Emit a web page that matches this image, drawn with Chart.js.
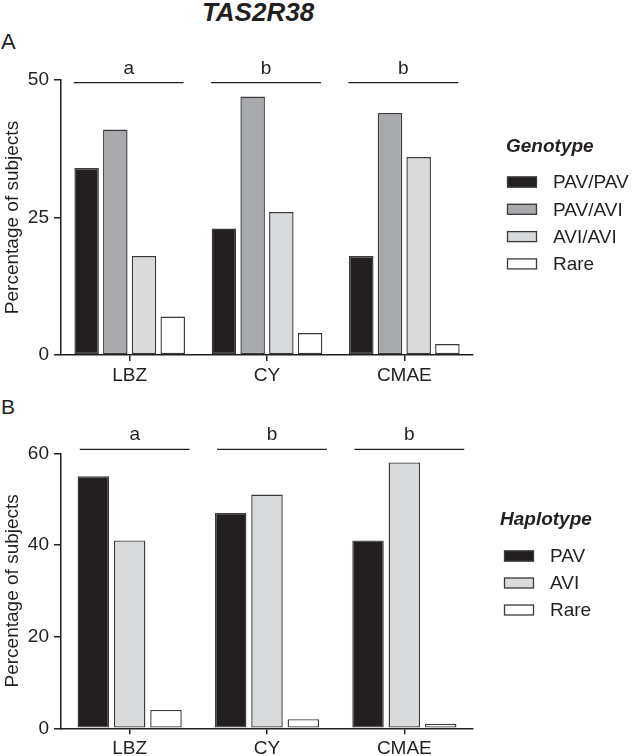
<!DOCTYPE html>
<html>
<head>
<meta charset="utf-8">
<script src="https://cdn.jsdelivr.net/npm/chart.js@4/dist/chart.umd.min.js"></script>
<style>
  html, body { margin: 0; padding: 0; background: #fff; }
  body { width: 633px; height: 756px; position: relative; overflow: hidden;
         font-family: "Liberation Sans", Arial, sans-serif; color: #231f20; }
  .abs { position: absolute; line-height: normal; white-space: nowrap; }
  #titulo { left: 0; width: 516px; text-align: center; top: -3px; font-size: 26px; font-weight: bold; font-style: italic; }
  #panelA { left: 1px; top: 29px; font-size: 22px; }
  #panelB { left: 1px; top: 395px; font-size: 21px; }
  #wrapA { left: 0; top: 0; }
  #wrapB { left: 0; top: 400px; }
</style>
</head>
<body>
<div class="abs" id="titulo">TAS2R38</div>
<div class="abs" id="panelA">A</div>
<div class="abs" id="panelB">B</div>
<div class="abs" id="wrapA"><canvas id="chartA" width="633" height="400"></canvas></div>
<div class="abs" id="wrapB"><canvas id="chartB" width="633" height="356"></canvas></div>
<script>
// ── Datos ─────────────────────────────────────────────────────
const grupos = ['LBZ', 'CY', 'CMAE'];
const letras = ['a', 'b', 'b'];

// Panel A: genotipo (%)
const genoPavPav = [34, 23, 18];
const genoPavAvi = [41, 47, 44];
const genoAviAvi = [18, 26, 36];
const genoRare   = [7, 4, 2];
const genoTicks  = [0, 25, 50];

// Panel B: haplotipo (%)
const hapPav   = [55, 47, 41];
const hapAvi   = [41, 51, 58];
const hapRare  = [4, 2, 1];
const hapTicks = [0, 20, 40, 60];

// ── Estilo ────────────────────────────────────────────────────
const FONT  = '"Liberation Sans", Arial, sans-serif';
const INK   = '#231f20';
const EDGE  = '#3a3a3a';
const NEGRO = '#231f20', GRIS = '#a7a9ac', CLARO = '#d9dadc', BLANCO = '#ffffff';
const TXT   = 19;

Chart.defaults.font.family = FONT;
Chart.defaults.color = INK;

// ══════════════════════════════════════════════════════════════
// PLUGINS: corchetes con letras y leyenda a la derecha
// ══════════════════════════════════════════════════════════════
const corchetes = {
    id: 'corchetes',
    afterDraw(chart, args, o) {
        const { ctx, chartArea } = chart;
        const x = chart.scales.x;
        const ancho = x.width / chart.data.labels.length * o.frac;
        const y = chartArea.top + o.dy;
        ctx.save();
        ctx.strokeStyle = INK;
        ctx.lineWidth = 1.3;
        ctx.fillStyle = INK;
        ctx.font = `${TXT}px ${FONT}`;
        ctx.textAlign = 'center';
        ctx.textBaseline = 'alphabetic';
        o.letras.forEach((l, i) => {
            const c = x.getPixelForValue(i) + o.shift;
            ctx.beginPath();
            ctx.moveTo(c - ancho / 2, y);
            ctx.lineTo(c + ancho / 2, y);
            ctx.stroke();
            ctx.fillText(l, c, y - 9);
        });
        ctx.restore();
    },
};

const leyenda = {
    id: 'leyenda',
    afterDraw(chart, args, o) {
        const ctx = chart.ctx;
        ctx.save();
        ctx.fillStyle = INK;
        ctx.textBaseline = 'middle';
        ctx.textAlign = 'left';
        ctx.font = `italic bold ${TXT}px ${FONT}`;
        ctx.fillText(o.titulo, o.tx, o.ty);
        ctx.font = `${TXT}px ${FONT}`;
        chart.data.datasets.forEach((ds, i) => {
            const cy = o.y + i * o.paso;
            ctx.fillStyle = ds.backgroundColor;
            ctx.fillRect(o.bx, cy - 5.5, 30, 11);
            ctx.strokeStyle = EDGE;
            ctx.lineWidth = 1.3;
            ctx.strokeRect(o.bx + 0.5, cy - 5, 29, 10);
            ctx.fillStyle = INK;
            ctx.fillText(ds.label, o.bx + 46, cy + 1);
        });
        ctx.restore();
    },
};

// ══════════════════════════════════════════════════════════════
// CONSTRUCCIÓN DE CADA PANEL
// ══════════════════════════════════════════════════════════════
function serie(label, data, color, cp, bp) {
    return {
        label, data,
        backgroundColor: color,
        borderColor: EDGE,
        borderWidth: 1.4,
        borderSkipped: false,
        categoryPercentage: cp,
        barPercentage: bp,
    };
}

function crearPanel(id, datasets, ticks, cfg) {
    return new Chart(document.getElementById(id), {
        type: 'bar',
        data: { labels: grupos, datasets },
        options: {
            responsive: false,
            animation: false,
            devicePixelRatio: 1,
            layout: { padding: { top: cfg.top, right: 160, left: 0, bottom: 0 } },
            plugins: {
                legend: { display: false },
                tooltip: { enabled: false },
                corchetes: cfg.corchetes,
                leyenda: cfg.leyenda,
            },
            scales: {
                x: {
                    afterFit: s => { s.height = cfg.xAlto; },
                    border: { color: INK, width: 1.5 },
                    grid: { drawOnChartArea: false, offset: false, tickLength: 6, color: INK, lineWidth: 1.5 },
                    ticks: { font: { size: TXT }, color: INK, padding: 3 },
                },
                y: {
                    min: ticks[0],
                    max: ticks[ticks.length - 1],
                    afterFit: s => { s.width = 61; },
                    afterBuildTicks: s => { s.ticks = ticks.map(v => ({ value: v })); },
                    border: { color: INK, width: 1.5 },
                    grid: { drawOnChartArea: false, tickLength: 7, color: INK, lineWidth: 1.5 },
                    ticks: { font: { size: TXT }, color: INK, padding: 5 },
                    title: {
                        display: true,
                        text: 'Percentage of subjects',
                        font: { size: 19 },
                        color: INK,
                        padding: { top: 1, bottom: 0 },
                    },
                },
            },
        },
        plugins: [corchetes, leyenda],
    });
}

// Panel A — Genotype
crearPanel('chartA', [
    serie('PAV/PAV', genoPavPav, NEGRO,  0.836, 0.854),
    serie('PAV/AVI', genoPavAvi, GRIS,   0.836, 0.854),
    serie('AVI/AVI', genoAviAvi, CLARO,  0.836, 0.854),
    serie('Rare',    genoRare,   BLANCO, 0.836, 0.854),
], genoTicks, {
    top: 80,
    xAlto: 45,
    corchetes: { letras, dy: 2.7, frac: 0.8, shift: -1 },
    leyenda: { titulo: 'Genotype', tx: 506, ty: 147, bx: 507, y: 182, paso: 27.3 },
});

// Panel B — Haplotype
crearPanel('chartB', [
    serie('PAV',  hapPav,  NEGRO,  0.793, 0.868),
    serie('AVI',  hapAvi,  CLARO,  0.793, 0.868),
    serie('Rare', hapRare, BLANCO, 0.793, 0.868),
], hapTicks, {
    top: 53.3,
    xAlto: 27.7,
    corchetes: { letras, dy: -4, frac: 0.8, shift: 5 },
    leyenda: { titulo: 'Haplotype', tx: 500, ty: 120, bx: 504, y: 156, paso: 27 },
});
</script>
</body>
</html>
